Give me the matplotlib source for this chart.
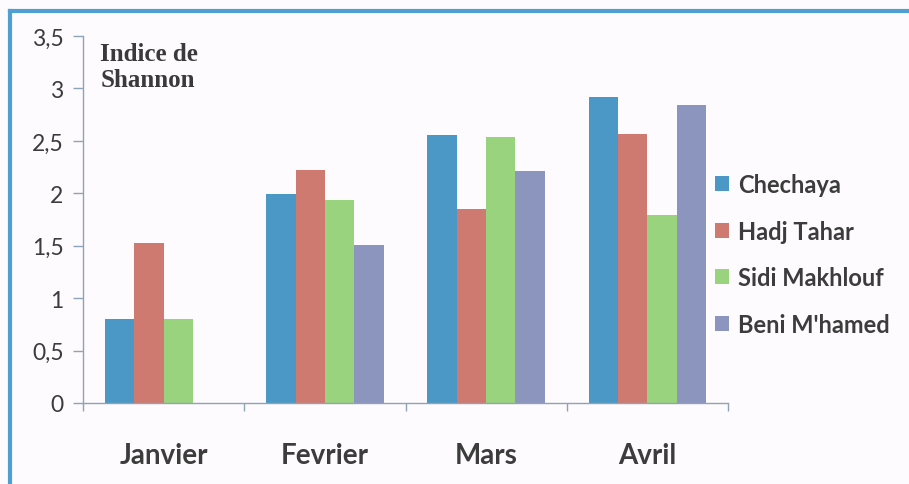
import numpy as np
import matplotlib.pyplot as plt
from matplotlib.lines import Line2D

months = ["Janvier", "Fevrier", "Mars", "Avril"]
stations = ["Chechaya", "Hadj Tahar", "Sidi Makhlouf", "Beni M'hamed"]
chechaya = [0.80, 1.99, 2.56, 2.92]
hadj_tahar = [1.53, 2.22, 1.85, 2.57]
sidi_makhlouf = [0.80, 1.94, 2.54, 1.79]
beni_mhamed = [np.nan, 1.51, 2.21, 2.84]
colors = ["#4b98c6", "#cf7a70", "#9ad37e", "#8c95bd"]

series = [chechaya, hadj_tahar, sidi_makhlouf, beni_mhamed]
bg = "#fdfbfd"
axis_col = "#8fa3b6"
txt_col = "#3c3c3c"

fig = plt.figure(figsize=(9.09, 4.85), dpi=100, facecolor=bg)
ax = fig.add_axes([83/909, 81/485, 645/909, 367/485], facecolor=bg)

x = np.arange(len(months))
w = 0.182
for i, (vals, name) in enumerate(zip(series, stations)):
    ax.bar(x + (i - 1.5) * w, vals, w, color=colors[i], label=name)

ax.set_xlim(-0.5, 3.5)
ax.set_ylim(0, 3.5)
ax.set_yticks(np.arange(0, 3.51, 0.5))
ax.set_yticklabels([f"{v:g}".replace(".", ",") for v in np.arange(0, 3.51, 0.5)],
                   family="Lato", fontsize=16.5, color=txt_col)
ax.set_xticks(x)
ax.set_xticklabels(months, family="Lato", fontsize=20, fontweight="bold", color=txt_col)
ax.set_xticks(np.arange(-0.5, 3.6, 1), minor=True)
ax.tick_params(axis="x", which="major", length=0, pad=28)
ax.tick_params(axis="x", which="minor", length=6, color=axis_col, width=1)
ax.tick_params(axis="y", length=7, color=axis_col, width=1, pad=7)

for side in ["top", "right"]:
    ax.spines[side].set_visible(False)
for side in ["left", "bottom"]:
    ax.spines[side].set_color(axis_col)
    ax.spines[side].set_linewidth(1)

ax.text(0.027, 0.985, "Indice de\nShannon", transform=ax.transAxes, va="top", ha="left",
        family="Liberation Serif", fontweight="bold", fontsize=18, color="#3a3a3a",
        linespacing=1.2)

leg = ax.legend(loc="center left", bbox_to_anchor=(0.965, 0.405), frameon=False,
                prop={"family": "Lato", "weight": "bold", "size": 17},
                handlelength=0.6, handleheight=0.6, handletextpad=0.4,
                labelspacing=1.0, borderaxespad=0)
for t in leg.get_texts():
    t.set_color(txt_col)

# blue frame round the chart
frame_col = "#4fa0d2"
fig.add_artist(Line2D([10/909, 10/909], [0, 1 - 12/485], color=frame_col, lw=3,
                      transform=fig.transFigure))
fig.add_artist(Line2D([10/909, 1], [1 - 12/485, 1 - 12/485], color=frame_col, lw=3,
                      transform=fig.transFigure))

fig.savefig("out.png", dpi=100, facecolor=bg)
